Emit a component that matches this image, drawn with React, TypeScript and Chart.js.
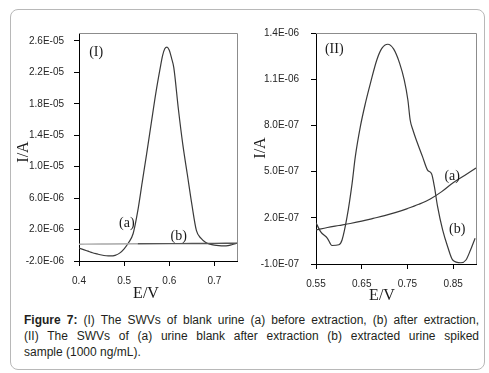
import React, { useEffect, useRef } from "react";
import { Chart, registerables } from "chart.js";

Chart.register(...registerables);

// ---------- Panel (I) ----------
const panelI_E = [
  0.40, 0.41, 0.42, 0.43, 0.44, 0.45, 0.46, 0.47, 0.48, 0.49,
  0.50, 0.51, 0.52, 0.53, 0.54, 0.55, 0.56, 0.57, 0.58, 0.585, 0.59,
  0.595, 0.60, 0.605, 0.61, 0.62, 0.63, 0.64, 0.65, 0.66, 0.67, 0.68, 0.69,
  0.70, 0.71, 0.72, 0.73, 0.74, 0.75,
];
const panelI_a = [
  -3.5e-7, -5.5e-7, -7.5e-7, -9.5e-7, -1.10e-6, -1.24e-6, -1.33e-6, -1.36e-6, -1.28e-6, -1.0e-6,
  -4.5e-7, 3.5e-7, 1.5e-6, 4.3e-6, 8.0e-6, 1.17e-5, 1.55e-5, 1.93e-5, 2.26e-5, 2.41e-5, 2.50e-5,
  2.52e-5, 2.48e-5, 2.38e-5, 2.26e-5, 1.74e-5, 1.28e-5, 9.0e-6, 5.2e-6, 1.9e-6, 9.0e-7, 4.0e-7, 1.5e-7,
  2.0e-8, -5.0e-8, -8.0e-8, -5.0e-8, 1.0e-7, 2.6e-7,
];
const panelI_bE = [0.40, 0.45, 0.53, 0.60, 0.65, 0.70, 0.75];
const panelI_b = [1.4e-7, 1.6e-7, 1.9e-7, 2.1e-7, 2.2e-7, 2.4e-7, 2.6e-7];
const panelI_xTicks = [0.4, 0.5, 0.6, 0.7];
const panelI_xLabels = ["0.4", "0.5", "0.6", "0.7"];
const panelI_yTicks = [-2e-6, 2e-6, 6e-6, 1e-5, 1.4e-5, 1.8e-5, 2.2e-5, 2.6e-5];
const panelI_yLabels = ["-2.0E-06", "2.0E-06", "6.0E-06", "1.0E-05", "1.4E-05", "1.8E-05", "2.2E-05", "2.6E-05"];
const panelI_labels = [
  { text: "(I)", x: 0.438, y: 2.46e-5 },
  { text: "(a)", x: 0.506, y: 2.82e-6 },
  { text: "(b)", x: 0.621, y: 1.11e-6 },
];

// ---------- Panel (II) ----------
const panelII_aE = [0.55, 0.575, 0.60, 0.625, 0.65, 0.675, 0.70, 0.725, 0.75, 0.775, 0.80, 0.825, 0.85, 0.875, 0.90];
const panelII_a = [
  1.21e-7, 1.37e-7, 1.50e-7, 1.63e-7, 1.78e-7, 1.96e-7, 2.14e-7, 2.35e-7,
  2.60e-7, 2.88e-7, 3.22e-7, 3.70e-7, 4.28e-7, 4.75e-7, 5.23e-7,
];
const panelII_bE = [
  0.550, 0.560, 0.575, 0.585, 0.600, 0.607, 0.618, 0.629, 0.636, 0.647,
  0.658, 0.669, 0.683, 0.694, 0.707, 0.720, 0.733, 0.743, 0.751, 0.756,
  0.762, 0.772, 0.783, 0.794, 0.803, 0.809, 0.816, 0.827, 0.838, 0.849,
  0.867, 0.878, 0.888, 0.898,
];
const panelII_b = [
  1.68e-7, 1.10e-7, 6.7e-8, 2.0e-8, 2.5e-8, 5.6e-8, 2.07e-7, 4.24e-7, 5.97e-7, 7.92e-7,
  9.43e-7, 1.073e-6, 1.225e-6, 1.300e-6, 1.327e-6, 1.295e-6, 1.203e-6, 1.095e-6, 9.65e-7, 8.35e-7,
  7.70e-7, 6.84e-7, 5.97e-7, 5.10e-7, 4.84e-7, 4.02e-7, 2.72e-7, 1.21e-7, 1.2e-8, -7.4e-8,
  -9.2e-8, -7.4e-8, -9.0e-9, 6.7e-8,
];
const panelII_xTicks = [0.55, 0.65, 0.75, 0.85];
const panelII_xLabels = ["0.55", "0.65", "0.75", "0.85"];
const panelII_yTicks = [-1e-7, 2e-7, 5e-7, 8e-7, 1.1e-6, 1.4e-6];
const panelII_yLabels = ["-1.0E-07", "2.0E-07", "5.0E-07", "8.0E-07", "1.1E-06", "1.4E-06"];
const panelII_labels = [
  { text: "(II)", x: 0.590, y: 1.294e-6 },
  { text: "(a)", x: 0.848, y: 4.71e-7 },
  { text: "(b)", x: 0.859, y: 1.25e-7 },
];

const LINE = "#3a3a3a";
const TICK_FONT = { family: "'Liberation Sans', Arial, sans-serif", size: 10 };
const TICK_COLOR = "#262626";

const zip = (xs: number[], ys: number[]) => xs.map((x, i) => ({ x, y: ys[i] }));

const overlay = {
  id: "overlay",
  afterDraw(chart: any, _args: any, opts: any) {
    const { ctx, chartArea: a, scales } = chart;
    ctx.save();
    // plot-area frame (top and right)
    ctx.strokeStyle = "#8c8c8c";
    ctx.lineWidth = 1;
    ctx.beginPath();
    ctx.moveTo(Math.round(a.left), Math.round(a.top) + 0.5);
    ctx.lineTo(Math.round(a.right) + 0.5, Math.round(a.top) + 0.5);
    ctx.lineTo(Math.round(a.right) + 0.5, Math.round(a.bottom));
    ctx.stroke();
    // curve labels in data coordinates
    ctx.fillStyle = "#1a1a1a";
    ctx.font = "14px 'Liberation Serif', 'Times New Roman', serif";
    ctx.textAlign = "center";
    ctx.textBaseline = "middle";
    for (const l of opts.labels) {
      ctx.fillText(l.text, scales.x.getPixelForValue(l.x), scales.y.getPixelForValue(l.y));
    }
    // axis titles
    ctx.font = "16px 'Liberation Serif', 'Times New Roman', serif";
    ctx.textBaseline = "alphabetic";
    ctx.fillText("E/V", opts.xTitle.x, opts.xTitle.y);
    ctx.translate(opts.yTitle.x, opts.yTitle.y);
    ctx.rotate(-Math.PI / 2);
    ctx.textBaseline = "middle";
    ctx.fillText("I/A", 0, 0);
    ctx.restore();
  },
};

type Panel = {
  datasets: any[];
  xMin: number; xMax: number; yMin: number; yMax: number;
  xTicks: number[]; xLabels: string[]; yTicks: number[]; yLabels: string[];
  labels: { text: string; x: number; y: number }[];
  yWidth: number; xHeight: number; padRight: number; yPad: number;
  xTitle: { x: number; y: number }; yTitle: { x: number; y: number };
};

function makeConfig(p: Panel): any {
  return {
    type: "scatter",
    data: { datasets: p.datasets },
    plugins: [overlay],
    options: {
      animation: false,
      responsive: false,
      layout: { padding: { top: 33, right: p.padRight, left: 0, bottom: 0 } },
      plugins: {
        legend: { display: false },
        tooltip: { enabled: false },
        overlay: { labels: p.labels, xTitle: p.xTitle, yTitle: p.yTitle },
      },
      scales: {
        x: {
          type: "linear",
          min: p.xMin,
          max: p.xMax,
          afterBuildTicks: (s: any) => { s.ticks = p.xTicks.map((v) => ({ value: v })); },
          afterFit: (s: any) => { s.height = p.xHeight; },
          ticks: {
            autoSkip: false, maxRotation: 0, padding: 9,
            font: TICK_FONT, color: TICK_COLOR,
            callback: (_v: any, i: number) => p.xLabels[i],
          },
          grid: { drawOnChartArea: false, drawTicks: true, tickLength: 5, color: "#000" },
          border: { color: "#000", width: 1 },
        },
        y: {
          type: "linear",
          min: p.yMin,
          max: p.yMax,
          afterBuildTicks: (s: any) => { s.ticks = p.yTicks.map((v) => ({ value: v })); },
          afterFit: (s: any) => { s.width = p.yWidth; },
          ticks: {
            autoSkip: false, padding: p.yPad,
            font: TICK_FONT, color: TICK_COLOR,
            callback: (_v: any, i: number) => p.yLabels[i],
          },
          grid: { drawOnChartArea: false, drawTicks: true, tickLength: 5, color: "#000" },
          border: { color: "#000", width: 1 },
        },
      },
    },
  };
}

const lineDs = (data: any[], extra: any = {}) => ({
  data,
  showLine: true,
  borderColor: LINE,
  borderWidth: 1.2,
  pointRadius: 0,
  cubicInterpolationMode: "monotone",
  ...extra,
});

const panelI: Panel = {
  datasets: [
    lineDs(zip(panelI_bE, panelI_b), {
      borderWidth: 1.4,
      segment: { borderColor: (c: any) => (c.p0.parsed.x < 0.53 ? "#a8a8a8" : "#555555") },
    }),
    lineDs(zip(panelI_E, panelI_a)),
  ],
  xMin: 0.4, xMax: 0.75, yMin: -2e-6, yMax: 2.7e-5,
  xTicks: panelI_xTicks, xLabels: panelI_xLabels,
  yTicks: panelI_yTicks, yLabels: panelI_yLabels,
  labels: panelI_labels,
  yWidth: 79, xHeight: 44, padRight: 8, yPad: 10,
  xTitle: { x: 146, y: 298 }, yTitle: { x: 24, y: 152 },
};

const panelII: Panel = {
  datasets: [
    lineDs(zip(panelII_aE, panelII_a)),
    lineDs(zip(panelII_bE, panelII_b)),
  ],
  xMin: 0.55, xMax: 0.9, yMin: -1e-7, yMax: 1.4e-6,
  xTicks: panelII_xTicks, xLabels: panelII_xLabels,
  yTicks: panelII_yTicks, yLabels: panelII_yLabels,
  labels: panelII_labels,
  yWidth: 76, xHeight: 41, padRight: 9, yPad: 12,
  xTitle: { x: 142, y: 300 }, yTitle: { x: 21, y: 148 },
};

function ChartCanvas({ panel, left }: { panel: Panel; left: number }) {
  const ref = useRef<HTMLCanvasElement | null>(null);
  useEffect(() => {
    if (!ref.current) return;
    const chart = new Chart(ref.current, makeConfig(panel));
    return () => chart.destroy();
  }, [panel]);
  return (
    <canvas
      ref={ref}
      width={245}
      height={305}
      style={{ position: "absolute", left, top: 0, width: 245, height: 305 }}
    />
  );
}

const lineStyle: React.CSSProperties = {
  textAlign: "justify",
  textAlignLast: "justify" as any,
  height: 16,
};

export default function App() {
  return (
    <div style={{ position: "fixed", left: 0, top: 0, width: 489, height: 373, background: "#fff", overflow: "hidden" }}>
      <div
        style={{
          position: "absolute", left: 10, top: 9, width: 475, height: 361,
          boxSizing: "border-box", border: "1px solid #b8b8b8", borderRadius: 8,
        }}
      />
      <ChartCanvas panel={panelI} left={0} />
      <ChartCanvas panel={panelII} left={240} />
      <div
        style={{
          position: "absolute", left: 24, top: 312, width: 455,
          fontFamily: "'Liberation Sans', Arial, sans-serif", fontSize: 12, lineHeight: "16px", color: "#231f20",
        }}
      >
        <div style={lineStyle}>
          <b>Figure 7:</b> (I) The SWVs of blank urine (a) before extraction, (b) after extraction,
        </div>
        <div style={lineStyle}>
          (II) The SWVs of (a) urine blank after extraction (b) extracted urine spiked
        </div>
        <div style={{ textAlign: "left" }}>sample (1000 ng/mL).</div>
      </div>
    </div>
  );
}
